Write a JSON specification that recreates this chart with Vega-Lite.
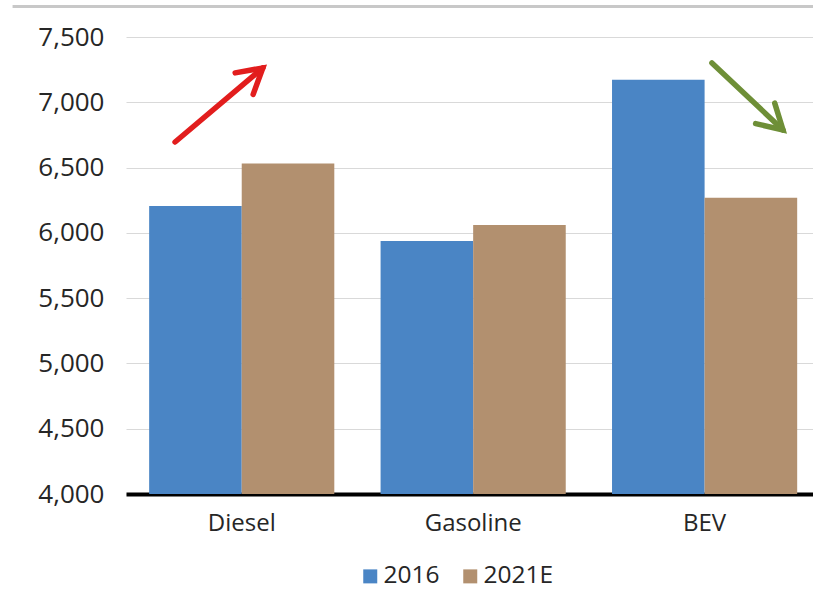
{
  "$schema": "https://vega.github.io/schema/vega-lite/v6.json",
  "width": 687,
  "height": 457,
  "autosize": {"type": "none"},
  "padding": {"top": 37, "left": 126, "right": 0, "bottom": 98},
  "background": "white",
  "config": {
    "view": {"stroke": null},
    "font": "Open Sans",
    "numberFormat": ",.0f",
    "axis": {"labelFont": "Open Sans", "labelColor": "#262626", "labelFontSize": 24},
    "axisY": {"tickCount": 7, "ticks": false, "domain": false, "labelPadding": 22, "labelFontSize": 26, "gridColor": "#d9d9d9", "gridWidth": 1.2}
  },
  "resolve": {"scale": {"x": "independent"}},
  "layer": [
    {
      "data": {"values": [
        {"fuel": "Diesel", "year": "2016", "value": 6205},
        {"fuel": "Diesel", "year": "2021E", "value": 6532},
        {"fuel": "Gasoline", "year": "2016", "value": 5938},
        {"fuel": "Gasoline", "year": "2021E", "value": 6060},
        {"fuel": "BEV", "year": "2016", "value": 7172},
        {"fuel": "BEV", "year": "2021E", "value": 6268}
      ]},
      "mark": {"type": "bar", "clip": true},
      "encoding": {
        "x": {
          "field": "fuel", "type": "nominal", "sort": ["Diesel", "Gasoline", "BEV"],
          "scale": {"paddingInner": 0.2, "paddingOuter": 0.0842, "align": 0.594},
          "axis": {"title": null, "labelAngle": 0, "ticks": false, "domainColor": "#000000", "domainWidth": 4, "labelPadding": 17, "grid": false}
        },
        "xOffset": {"field": "year", "type": "nominal", "scale": {"paddingInner": 0, "paddingOuter": 0}},
        "y": {
          "field": "value", "type": "quantitative", "title": null,
          "scale": {"domain": [4000, 7500], "nice": false, "zero": false}
        },
        "color": {
          "field": "year", "type": "nominal",
          "scale": {"domain": ["2016", "2021E"], "range": ["#4A85C5", "#B2906F"]},
          "legend": {"title": null, "orient": "none", "legendX": 232, "legendY": 527, "direction": "horizontal", "symbolType": "square", "symbolSize": 196, "symbolStrokeWidth": 0, "labelFontSize": 24.5, "labelColor": "#262626", "labelFont": "Open Sans", "columnPadding": 18, "symbolOffset": 0, "labelOffset": 1}
        }
      }
    },
    {
      "data": {"values": [{"x1": -0.49, "x2": 2.968, "y": 7734}]},
      "mark": {"type": "rule", "color": "#c8c8c8", "strokeWidth": 3, "clip": false},
      "encoding": {
        "x": {"field": "x1", "type": "quantitative", "scale": {"domain": [0, 2.9676], "nice": false, "zero": false}, "axis": null},
        "x2": {"field": "x2"},
        "y": {"field": "y", "type": "quantitative", "title": null}
      }
    },
    {
      "data": {"values": [{"xs": 0.212, "ys": 6696, "xe": 0.591, "ye": 7263}]},
      "layer": [
        {
          "mark": {"type": "rule", "color": "#E21D1D", "strokeWidth": 5.5, "strokeCap": "round"},
          "encoding": {
            "x": {"field": "xs", "type": "quantitative", "scale": {"domain": [0, 2.9676], "nice": false, "zero": false}, "axis": null},
            "x2": {"field": "xe"},
            "y": {"field": "ys", "type": "quantitative", "title": null},
            "y2": {"field": "ye"}
          }
        },
        {
          "mark": {"type": "point", "shape": "M -0.5 0.87 L 0 0 L 0.5 0.87", "angle": 50, "size": 3136, "filled": false, "stroke": "#E21D1D", "strokeWidth": 5.5, "strokeCap": "round", "strokeJoin": "miter", "opacity": 1},
          "encoding": {
            "x": {"field": "xe", "type": "quantitative", "scale": {"domain": [0, 2.9676], "nice": false, "zero": false}, "axis": null},
            "y": {"field": "ye", "type": "quantitative", "title": null}
          }
        }
      ]
    },
    {
      "data": {"values": [{"xs": 2.531, "ys": 7301, "xe": 2.838, "ye": 6788}]},
      "layer": [
        {
          "mark": {"type": "rule", "color": "#6E8F37", "strokeWidth": 5.5, "strokeCap": "round"},
          "encoding": {
            "x": {"field": "xs", "type": "quantitative", "scale": {"domain": [0, 2.9676], "nice": false, "zero": false}, "axis": null},
            "x2": {"field": "xe"},
            "y": {"field": "ys", "type": "quantitative", "title": null},
            "y2": {"field": "ye"}
          }
        },
        {
          "mark": {"type": "point", "shape": "M -0.5 0.87 L 0 0 L 0.5 0.87", "angle": 133, "size": 3136, "filled": false, "stroke": "#6E8F37", "strokeWidth": 5.5, "strokeCap": "round", "strokeJoin": "miter", "opacity": 1},
          "encoding": {
            "x": {"field": "xe", "type": "quantitative", "scale": {"domain": [0, 2.9676], "nice": false, "zero": false}, "axis": null},
            "y": {"field": "ye", "type": "quantitative", "title": null}
          }
        }
      ]
    }
  ]
}
